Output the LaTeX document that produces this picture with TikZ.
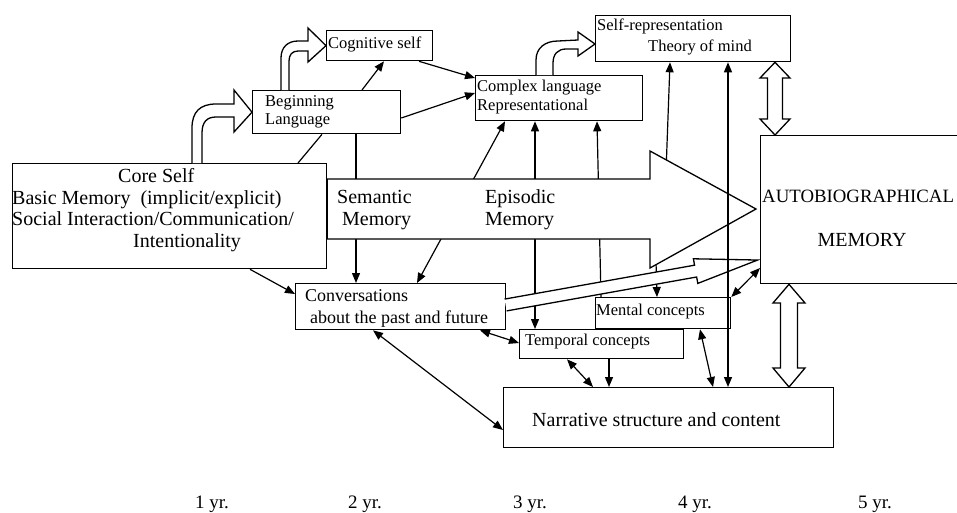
\documentclass[tikz,border=0pt]{standalone}
\usepackage{fontspec}
\setmainfont{Liberation Serif}
\usetikzlibrary{arrows.meta,calc}
\newcommand{\fA}{\fontsize{20}{24}\selectfont}
\newcommand{\fAu}{\fontsize{18.8}{24}\selectfont}
\newcommand{\fB}{\fontsize{16.5}{20}\selectfont}
\newcommand{\fC}{\fontsize{18}{22}\selectfont}
\newcommand{\fY}{\fontsize{19}{23}\selectfont}
\begin{document}
\begin{tikzpicture}[x=1pt,y=-1pt,
  box/.style={draw, line width=1.3pt, fill=white, inner sep=0pt, anchor=north west},
  tx/.style={inner sep=0pt, anchor=base west},
  ln/.style={line width=1.2pt},
  arr/.style={line width=1.2pt, -{Triangle[length=10pt,width=8pt]}},
  arrr/.style={line width=1.2pt, {Triangle[length=10pt,width=8pt]}-{Triangle[length=10pt,width=8pt]}},
  hollow/.style={line width=1.3pt, fill=white, line join=miter}]
\useasboundingbox (0,0) rectangle (957,512);
\clip (0,0) rectangle (957,512);

% boxes
\node[box, minimum width=314pt, minimum height=105pt] (core) at (12,163) {};
\node[box, minimum width=148pt, minimum height=43pt] (BL) at (252,90) {};
\node[box, minimum width=106pt, minimum height=30pt] (cog) at (326,30) {};
\node[box, minimum width=167pt, minimum height=45pt] (cplx) at (475,75) {};
\node[box, minimum width=195pt, minimum height=46pt] (selfrep) at (595,15) {};
\node[box, minimum width=204pt, minimum height=148pt] (auto) at (760,135) {};
\node[box, minimum width=210pt, minimum height=46pt] (conv) at (295,283) {};
\node[box, minimum width=135pt, minimum height=31pt] (mental) at (595,297) {};
\node[box, minimum width=164pt, minimum height=29pt] (temporal) at (519,329) {};
\node[box, minimum width=330pt, minimum height=60pt] (narr) at (503,387) {};

% lines running behind the big arrow
\draw[arr] (BL.south -| 356,0) -- (conv.north -| 356,0);
\draw[arrr] (conv.north -| 417,0) -- (cplx.south -| 505,0);
\draw[arrr] (temporal.north -| 535,0) -- (cplx.south -| 535,0);
\draw[arr] (mental.north -| 601,0) -- (cplx.south -| 597,0);
\draw[arr] (666,172) -- (selfrep.south -| 670,0);
\draw[arr] (656,262) -- (mental.north -| 657,0);

% big arrow
\filldraw[hollow] (core.east |- 0,179) -- (650,179) -- (650,151) -- (756,209)
  -- (650,268) -- (650,239) -- (core.east |- 0,239) -- cycle;

% hollow arrow conversations -> autobiographical memory
\begin{scope}[shift={(505.6,305)}, rotate=10.12]
  \filldraw[hollow] (0,-6) -- (193,-6) -- (193,-12.5) -- (256,0) -- (193,12.5) -- (193,6) -- (0,6);
\end{scope}

% thin connectors
\draw[arr] (BL.north -| 362,0) -- (cog.south -| 384,0);
\draw[arr] (cog.south -| 419,0) -- (cplx.west |- 0,78);
\draw[arr] (BL.east |- 0,118) -- (cplx.west |- 0,93);
\draw[ln] (core.north -| 298,0) -- (BL.south -| 322,0);
\draw[arr] (core.south -| 250,0) -- (conv.west |- 0,294);
\draw[arrr] (conv.south -| 373,0) -- (narr.west |- 0,430);
\draw[arrr] (conv.south -| 480,0) -- (temporal.west |- 0,343);
\draw[arrr] (temporal.south -| 567,0) -- (narr.north -| 593,0);
\draw[arr] (temporal.south -| 609,0) -- (narr.north -| 609,0);
\draw[arrr] (mental.south -| 700,0) -- (narr.north -| 713,0);
\draw[arrr] (mental.north east) -- (auto.west |- 0,268);

% hollow curved arrows
\filldraw[hollow] (192,163) -- (192,128) .. controls (192,112) and (200,104) .. (216,104)
  -- (234,104) -- (234,90) -- (BL.west) -- (234,132) -- (234,117) -- (216,117)
  .. controls (207,117) and (202,122) .. (202,133) -- (202,163);
\filldraw[hollow] (281,90) -- (281,58) .. controls (281,47) and (288,41) .. (298,41)
  -- (308,41) -- (308,28) -- (cog.west) -- (308,62) -- (308,51) -- (298,51)
  .. controls (292,51) and (289,55) .. (289,61) -- (289,90);
\filldraw[hollow] (536,75) -- (536,60) .. controls (536,48) and (545,41) .. (558,41)
  -- (578,40) -- (578,32) -- (595,44) -- (578,56) -- (578,49) -- (566,49)
  .. controls (558,49) and (553,54) .. (553,63) -- (553,75);

% hollow double arrows
\filldraw[hollow] (selfrep.south -| 775,0) -- (790,78) -- (782.5,78) -- (782.5,119) -- (790,119)
  -- (auto.north -| 775,0) -- (760,119) -- (767.5,119) -- (767.5,78) -- (760,78) -- cycle;
\filldraw[hollow] (auto.south -| 789,0) -- (805,303) -- (797.5,303) -- (797.5,368) -- (805,368)
  -- (narr.north -| 789,0) -- (773,368) -- (780.5,368) -- (780.5,303) -- (773,303) -- cycle;

% long vertical line over everything
\draw[arrr] (narr.north -| 728,0) -- (selfrep.south -| 728,0);

% texts
\node[tx, font=\fA] (tcore1) at (118,182) {Core Self};
\node[tx, font=\fA] (tcore2) at (12,204) {Basic Memory~ (implicit/explicit)};
\node[tx, font=\fA] (tcore3) at (12,225) {Social Interaction/Communication/};
\node[tx, font=\fA] (tcore4) at (133,247) {Intentionality};
\node[tx, font=\fA] (tsem1) at (337,203) {Semantic};
\node[tx, font=\fA] (tsem2) at (342,225) {Memory};
\node[tx, font=\fA] (tepi1) at (485,203) {Episodic};
\node[tx, font=\fA] (tepi2) at (485,225) {Memory};
\node[tx, font=\fAu] (tauto1) at (762,202) {AUTOBIOGRAPHICAL};
\node[tx, font=\fA, anchor=base] (tauto2) at (862,246) {MEMORY};
\node[tx, font=\fA] (tnarr) at (532,426) {Narrative structure and content};
\node[tx, font=\fC] (tconv1) at (305,301) {Conversations};
\node[tx, font=\fC] (tconv2) at (310,323) {about the past and future};
\node[tx, font=\fB] (tment) at (596,315) {Mental concepts};
\node[tx, font=\fB] (ttemp) at (525,345) {Temporal concepts};
\node[tx, font=\fB] (tbl1) at (265,106) {Beginning};
\node[tx, font=\fB] (tbl2) at (265,124) {Language};
\node[tx, font=\fB] (tcog) at (328,48) {Cognitive self};
\node[tx, font=\fB] (tcx1) at (477,91) {Complex language};
\node[tx, font=\fB] (tcx2) at (477,110) {Representational};
\node[tx, font=\fB] (tsr1) at (597,30) {Self-representation};
\node[tx, font=\fB] (tsr2) at (648,51) {Theory of mind};

% age labels
\node[tx, font=\fY, anchor=base] (y1) at (212,508) {1 yr.};
\node[tx, font=\fY, anchor=base] (y2) at (365,508) {2 yr.};
\node[tx, font=\fY, anchor=base] (y3) at (530,508) {3 yr.};
\node[tx, font=\fY, anchor=base] (y4) at (695,508) {4 yr.};
\node[tx, font=\fY, anchor=base] (y5) at (875,508) {5 yr.};
\end{tikzpicture}
\end{document}
